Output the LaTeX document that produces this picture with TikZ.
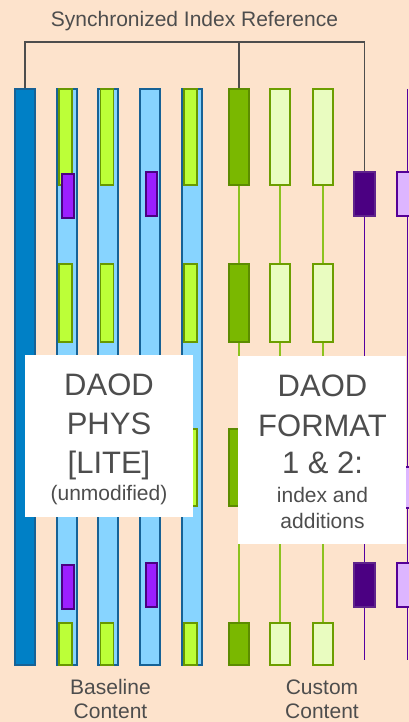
\documentclass[tikz,border=0pt]{standalone}
\usepackage{fontspec}
\setmainfont{Liberation Sans}
\definecolor{bgpeach}{RGB}{253,227,204}
\definecolor{txtgray}{RGB}{77,77,77}
\definecolor{darkblue}{RGB}{0,128,198}
\definecolor{lightblue}{RGB}{135,212,255}
\definecolor{bluebd}{RGB}{22,98,150}
\definecolor{lime}{RGB}{188,255,56}
\definecolor{limebd}{RGB}{104,152,0}
\definecolor{darkgreen}{RGB}{122,184,0}
\definecolor{darkgreenbd}{RGB}{92,140,0}
\definecolor{palegreen}{RGB}{233,252,192}
\definecolor{palegreenbd}{RGB}{108,158,0}
\definecolor{greenline}{RGB}{140,194,31}
\definecolor{violet}{RGB}{155,31,255}
\definecolor{violetbd}{RGB}{75,0,130}
\definecolor{deeppurple}{RGB}{75,0,130}
\definecolor{deeppurplebd}{RGB}{95,35,140}
\definecolor{palepurple}{RGB}{221,181,255}
\definecolor{palepurplebd}{RGB}{85,0,150}
\definecolor{purpleline}{RGB}{85,0,160}
\begin{document}
\begin{tikzpicture}[x=1pt,y=-1pt,
  bar/.style={draw=bluebd, line width=1.2pt, minimum width=20, minimum height=576, inner sep=0},
  darkbar/.style={bar, fill=darkblue},
  lightbar/.style={bar, fill=lightblue},
  seg/.style={draw=limebd, fill=lime, line width=1.2pt, minimum width=13, inner sep=0},
  vmark/.style={draw=violetbd, fill=violet, line width=1.2pt, minimum width=12, minimum height=44, inner sep=0},
  dgbox/.style={draw=darkgreenbd, fill=darkgreen, line width=1.2pt, minimum width=20, inner sep=0},
  pgbox/.style={draw=palegreenbd, fill=palegreen, line width=1.2pt, minimum width=20, inner sep=0},
  dpbox/.style={draw=deeppurplebd, fill=deeppurple, line width=1.2pt, minimum width=21, inner sep=0},
  ppbox/.style={draw=palepurplebd, fill=palepurple, line width=1.2pt, minimum width=21, inner sep=0},
  gline/.style={draw=greenline, line width=1.6pt},
  pline/.style={draw=purpleline, line width=1.9pt},
  brthick/.style={draw=txtgray, line width=2.6pt, line join=miter},
  brthin/.style={draw=txtgray, line width=1.6pt, line join=miter},
  labelbox/.style={fill=white, draw=none, inner sep=0},
  bigtxt/.style={text=txtgray, anchor=base, inner sep=0, font=\fontsize{31}{37}\selectfont},
  smalltxt/.style={text=txtgray, anchor=base, inner sep=0, font=\fontsize{21}{25}\selectfont}
]
\fill[bgpeach] (0,0) rectangle (409,722);
\useasboundingbox (0,0) rectangle (409,722);

% ---- baseline columns ----
\node[darkbar]  (bar1) at (25,377) {};
\node[lightbar] (bar2) at (67,377) {};
\node[lightbar] (bar3) at (108,377) {};
\node[lightbar] (bar4) at (150,377) {};
\node[lightbar] (bar5) at (192,377) {};

% green segments
\foreach \c/\x in {2/65.5, 3/107, 5/190.5}{
  \node[seg, minimum height=96] (s\c a) at (\x,137) {};
  \node[seg, minimum height=78] (s\c b) at (\x,303) {};
  \node[seg, minimum height=77] (s\c c) at (\x,467.5) {};
  \node[seg, minimum height=42] (s\c d) at (\x,644) {};
}
% violet marks
\node[vmark] (m2a) at (68,196) {};
\node[vmark] (m2b) at (68,587) {};
\node[vmark, minimum width=11] (m4a) at (151.5,194) {};
\node[vmark, minimum width=11] (m4b) at (151.5,585) {};

% ---- custom columns ----
\draw[gline] (239,185) -- (239,623);
\draw[gline] (280,185) -- (280,623);
\draw[gline] (323,185) -- (323,623);
\foreach \c/\x/\st in {6/239/dgbox, 7/280/pgbox, 8/323/pgbox}{
  \node[\st, minimum height=96] (g\c a) at (\x,137) {};
  \node[\st, minimum height=78] (g\c b) at (\x,303) {};
  \node[\st, minimum height=77] (g\c c) at (\x,467.5) {};
  \node[\st, minimum height=42] (g\c d) at (\x,644) {};
}

% purple columns
\coordinate (p9end) at (364.5,660);
\coordinate (p10top) at (407.5,89);
\coordinate (p10end) at (407.5,660);
\node[dpbox, minimum height=44] (p9a) at (364.5,194) {};
\node[dpbox, minimum height=44] (p9b) at (364.5,585) {};
\draw[pline] (p9a) -- (p9b);
\draw[pline] (p9b) -- (p9end);
\draw[pline] (p10top) -- (p10end);
\node[ppbox, minimum height=44] (p10a) at (407.5,194) {};
\node[ppbox, minimum height=41] (p10b) at (407.5,487.5) {};
\node[ppbox, minimum height=44] (p10c) at (407.5,585) {};

% ---- bracket ----
\coordinate (brL) at (25,42);
\coordinate (brM) at (239,42);
\coordinate (brR) at (364.5,42);
\draw[brthin] (brM) -- (brR) -- (p9a.north);
\draw[brthin] (brM) -- (g6a.north);
\draw[brthick] (bar1.north) -- (brL) -- (brM);

\node[smalltxt] (title) at (194.5,27) {Synchronized Index Reference};

% ---- label boxes ----
\node[labelbox, minimum width=168, minimum height=162] (physbox) at (109,436) {};
\node[labelbox, minimum width=168, minimum height=188] (fmtbox) at (322,450) {};

\node[bigtxt] (p1) at (109,395) {DAOD};
\node[bigtxt] (p2) at (109,434) {PHYS};
\node[bigtxt] (p3) at (109,473) {[LITE]};
\node[smalltxt] (p4) at (109,500) {(unmodified)};

\node[bigtxt] (f1) at (322.5,396) {DAOD};
\node[bigtxt] (f2) at (322.5,436) {FORMAT};
\node[bigtxt] (f3) at (322.5,473) {1 \& 2:};
\node[smalltxt] (f4) at (322.5,502) {index and};
\node[smalltxt] (f5) at (322.5,528) {additions};

% ---- bottom labels ----
\node[smalltxt] (b1) at (110.5,694) {Baseline};
\node[smalltxt] (b2) at (110.5,718) {Content};
\node[smalltxt] (c1) at (322,694) {Custom};
\node[smalltxt] (c2) at (322,718) {Content};
\end{tikzpicture}
\end{document}
